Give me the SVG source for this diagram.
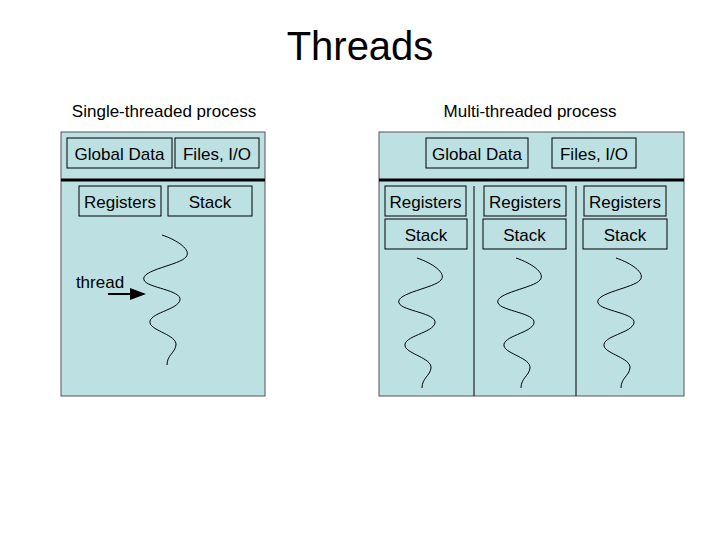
<svg xmlns="http://www.w3.org/2000/svg" width="720" height="540" viewBox="0 0 720 540">
<style>
.p{fill:#bde0e3;stroke:#555;stroke-width:1}
.b{fill:none;stroke:#000;stroke-width:1}
.t{font-family:"Liberation Sans",Arial,sans-serif;font-size:17px;fill:#000;text-anchor:middle}
.w{fill:none;stroke:#000;stroke-width:1}
</style>
<defs><marker id="ah" markerWidth="8" markerHeight="8" refX="7" refY="4" orient="auto"><path d="M0,1 L8,4 L0,7z" fill="#000"/></marker>
<path id="sq" d="M0,0 C15,5 30,15 24,22 C18,30 -22,35 -18,45 C-15,53 20,55 18,65 C16,75 -14,78 -12,88 C-10,96 15,100 14,110 C13,118 5,120 5,130" class="w"/></defs>
<text x="360" y="60" class="t" style="font-size:40px">Threads</text>
<text x="164" y="117" class="t">Single-threaded process</text>
<text x="530" y="117" class="t">Multi-threaded process</text>
<g id="single">
<rect x="61" y="132" width="204" height="264" class="p"/>
<rect x="67" y="138" width="105" height="30" class="b"/><text x="119.5" y="160" class="t">Global Data</text>
<rect x="175" y="138" width="84" height="30" class="b"/><text x="217" y="160" class="t">Files, I/O</text>
<line x1="61" y1="180" x2="265" y2="180" stroke="#000" stroke-width="3"/>
<rect x="79" y="186" width="82" height="30" class="b"/><text x="120" y="208" class="t">Registers</text>
<rect x="168" y="186" width="84" height="30" class="b"/><text x="210" y="208" class="t">Stack</text>
<use href="#sq" x="162" y="235"/>
<text x="100" y="288" class="t">thread</text>
</g>
<g id="multi">
<rect x="379" y="132" width="305" height="264" class="p"/>
<rect x="426" y="138" width="102" height="30" class="b"/><text x="477" y="160" class="t">Global Data</text>
<rect x="552" y="138" width="84" height="30" class="b"/><text x="594" y="160" class="t">Files, I/O</text>
<line x1="379" y1="180" x2="684" y2="180" stroke="#000" stroke-width="3"/>
<line x1="474" y1="186" x2="474" y2="396" stroke="#000"/>
<line x1="576" y1="186" x2="576" y2="396" stroke="#000"/>
<rect x="385" y="186" width="81" height="30" class="b"/><text x="425.5" y="208" class="t">Registers</text>
<rect x="484" y="186" width="82" height="30" class="b"/><text x="525" y="208" class="t">Registers</text>
<rect x="584" y="186" width="82" height="30" class="b"/><text x="625" y="208" class="t">Registers</text>
<rect x="385" y="219" width="82" height="30" class="b"/><text x="426" y="241" class="t">Stack</text>
<rect x="483" y="219" width="83" height="30" class="b"/><text x="524.5" y="241" class="t">Stack</text>
<rect x="583" y="219" width="84" height="30" class="b"/><text x="625" y="241" class="t">Stack</text>
<use href="#sq" x="417" y="258"/>
<use href="#sq" x="516" y="258"/>
<use href="#sq" x="616" y="258"/>
</g>
<g id="connectors"><line x1="108" y1="294" x2="144" y2="294" stroke="#000" stroke-width="2" marker-end="url(#ah)"/></g>
</svg>
